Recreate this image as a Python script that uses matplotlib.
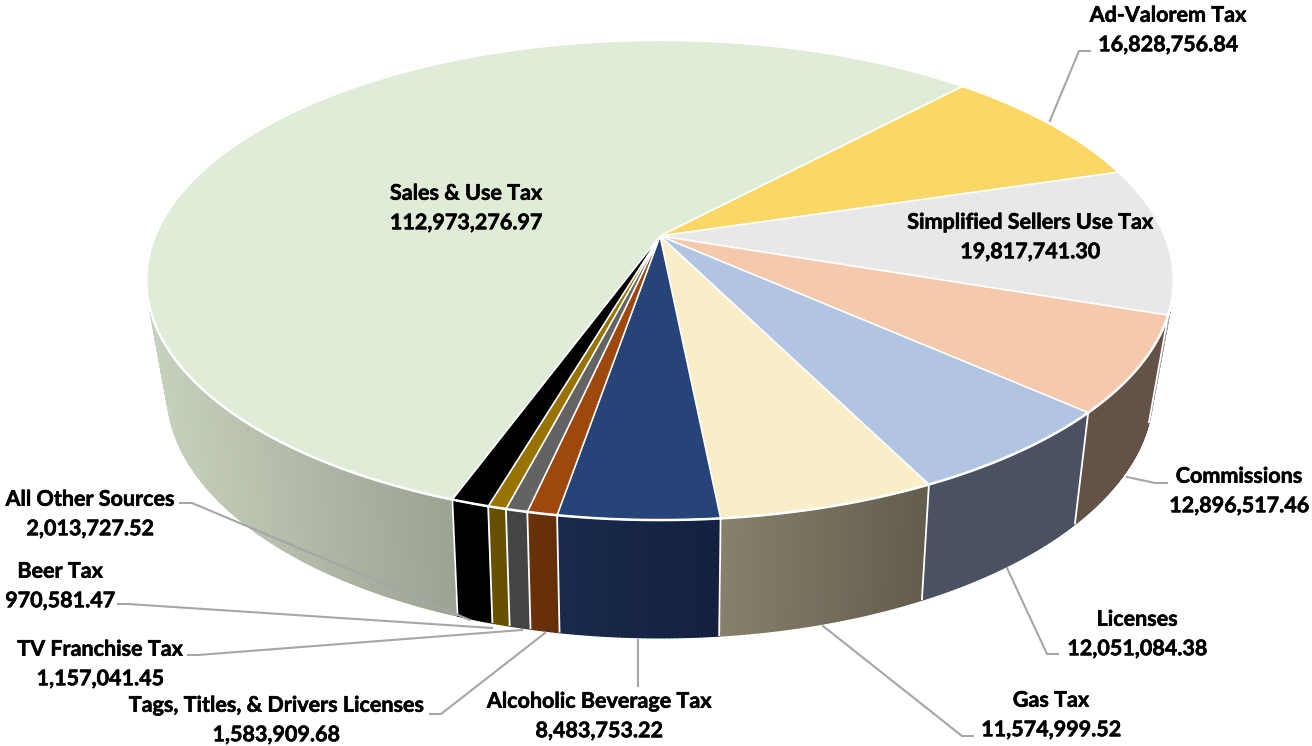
import numpy as np
import matplotlib
matplotlib.use("Agg")
import matplotlib.pyplot as plt
import matplotlib.patheffects as pe
from matplotlib.collections import PolyCollection

categories = ["Sales & Use Tax", "Ad-Valorem Tax", "Simplified Sellers Use Tax", "Commissions",
              "Licenses", "Gas Tax", "Alcoholic Beverage Tax", "Tags, Titles, & Drivers Licenses",
              "TV Franchise Tax", "Beer Tax", "All Other Sources"]
values = [112973276.97, 16828756.84, 19817741.30, 12896517.46, 12051084.38, 11574999.52,
          8483753.22, 1583909.68, 1157041.45, 970581.47, 2013727.52]
top_colors = ["#DFECD7", "#FBD766", "#E8E8E8", "#F5C9AC", "#B1C5E3", "#FAEEC9", "#264478",
              "#9E480E", "#636363", "#997300", "#000000"]
wall_left = ["#C7D2BE", "#B09746", "#A3A3A3", "#655246", "#4A5162", "#87806C", "#182A4C",
             "#6B3209", "#444444", "#685000", "#000000"]
wall_right = ["#9BA392", "#B09746", "#A3A3A3", "#655246", "#4A5162", "#625D4C", "#14203F",
              "#632E08", "#444444", "#665000", "#000000"]
label_xy = [(466, 208), (1168, 30), (1030, 237), (1239, 491), (1137, 634), (1051, 715),
            (599, 716), (276, 720), (100, 664), (60, 586), (90, 514)]
leaders = [None,
           [(1049, 123), (1079, 51), (1090, 51)],
           None,
           [(1127, 477), (1155, 483), (1167, 483)],
           [(1007, 568), (1047, 654), (1058, 654)],
           [(823, 626), (962, 736), (973, 736)],
           [(638, 640), (638, 686)],
           [(545, 633), (441, 714), (430, 714)],
           [(522, 630), (198, 655), (188, 655)],
           [(492, 628), (128, 604), (118, 604)],
           [(470, 620), (192, 503), (180, 503)]]
start_angle = 199.9

CX = 660.0


def project(theta_deg, lower=False):
    t = np.radians(theta_deg)
    u, v = np.sin(t), np.cos(t)
    if lower:
        d = 1 + 0.2 * v
        return CX + 483 * u / d, 342 - 236.6 * v / d
    d = 1 + 0.1833 * v
    return CX + 505 * u / d, 236 - 232 * v / d


fig = plt.figure(figsize=(13.12, 7.46), dpi=100)
ax = fig.add_axes([0, 0, 1, 1])
ax.set_xlim(0, 1312)
ax.set_ylim(746, 0)
ax.axis("off")

vals = np.array(values)
edges = start_angle + np.concatenate([[0], np.cumsum(vals) / vals.sum() * 360])

# side wall: thin quads, painted back to front
quads, cols, depth = [], [], []
for i in range(len(vals)):
    a, b = edges[i], edges[i + 1]
    n = max(int((b - a) / 0.4), 2)
    th = np.linspace(a, b, n + 1)
    xt, yt = project(th)
    xl, yl = project(th, True)
    c0 = np.array(matplotlib.colors.to_rgb(wall_left[i]))
    c1 = np.array(matplotlib.colors.to_rgb(wall_right[i]))
    front = np.cos(np.radians(th)) < 0.35
    xmin, xmax = xt[front].min() if front.any() else xt.min(), xt[front].max() if front.any() else xt.max()
    if i == 0:
        # the largest slice wraps round the back: its visible run ends at the start edge
        xmax = xt[0]
    for k in range(n):
        quads.append([(xt[k], yt[k]), (xt[k + 1], yt[k + 1]), (xl[k + 1], yl[k + 1]), (xl[k], yl[k])])
        f = np.clip(((xt[k] + xt[k + 1]) / 2 - xmin) / max(xmax - xmin, 1), 0, 1)
        cols.append(c0 + (c1 - c0) * f)
        depth.append((yt[k] + yt[k + 1]) / 2)
order = np.argsort(depth)
ax.add_collection(PolyCollection([quads[j] for j in order], facecolors=[cols[j] for j in order],
                                 edgecolors=[cols[j] for j in order], linewidths=1.0, zorder=1))

# white separators on the wall
for e in edges[:-1]:
    x0, y0 = project(e)
    x1, y1 = project(e, True)
    if np.cos(np.radians(e)) < 0:
        ax.plot([x0, x1], [y0, y1], color="white", lw=1.3, zorder=2, solid_capstyle="butt")

# leader lines run beneath the top face and above the wall
for pts in leaders:
    if pts:
        ax.plot(*zip(*pts), color="#A6A6A6", lw=1.5, zorder=3, solid_joinstyle="round")

# top face
for i in range(len(vals)):
    th = np.linspace(edges[i], edges[i + 1], 200)
    x, y = project(th)
    ax.fill(np.r_[CX, x], np.r_[236, y], facecolor=top_colors[i], edgecolor="white",
            lw=1.1, zorder=4, joinstyle="round")
    ax.plot(x, y, color="white", lw=1.8, zorder=4.1)

for name, val, (x, y) in zip(categories, values, label_xy):
    ax.text(x, y, f"{name}\n{val:,.2f}", ha="center", va="center", multialignment="center",
            family="Lato", weight="bold", fontsize=15.5, color="black", linespacing=1.5, zorder=5,
            path_effects=[pe.withStroke(linewidth=0.4, foreground="black")])

fig.savefig("out.png", dpi=100, facecolor="white")
